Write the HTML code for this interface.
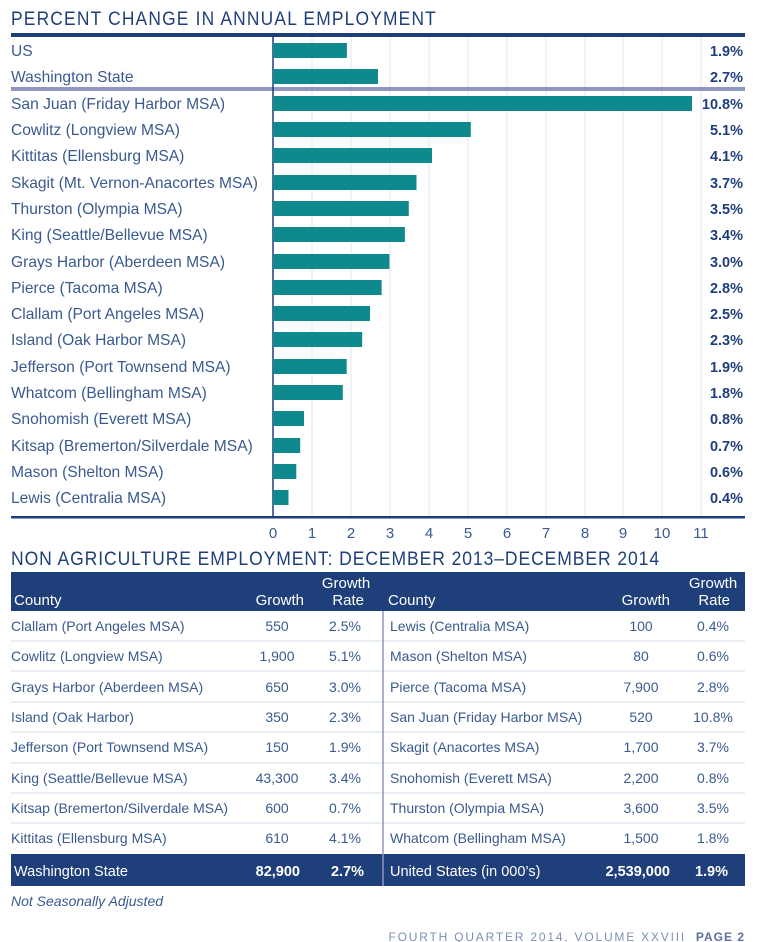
<!DOCTYPE html>
<html><head><meta charset="utf-8"><style>
body{margin:0;background:#fff;}
svg{display:block;font-family:"Liberation Sans",sans-serif;}
</style></head><body>
<svg width="760" height="942" viewBox="0 0 760 942" xmlns="http://www.w3.org/2000/svg">
<text x="11" y="25" font-size="19" fill="#1f3f7a" letter-spacing="1.3" textLength="426" lengthAdjust="spacingAndGlyphs">PERCENT CHANGE IN ANNUAL EMPLOYMENT</text>
<rect x="11" y="33" width="734" height="4" fill="#1f3f7a"/>
<g stroke="#e0e4f0" stroke-width="1">
<line x1="312" y1="37" x2="312" y2="516"/><line x1="351" y1="37" x2="351" y2="516"/><line x1="390" y1="37" x2="390" y2="516"/><line x1="429" y1="37" x2="429" y2="516"/><line x1="468" y1="37" x2="468" y2="516"/><line x1="507" y1="37" x2="507" y2="516"/><line x1="546" y1="37" x2="546" y2="516"/><line x1="585" y1="37" x2="585" y2="516"/><line x1="623" y1="37" x2="623" y2="516"/><line x1="662" y1="37" x2="662" y2="516"/><line x1="701" y1="37" x2="701" y2="516"/>
</g>
<rect x="11" y="87" width="734" height="4" fill="#8d97c2"/>
<line x1="273" y1="37" x2="273" y2="516" stroke="#1f3f7a" stroke-width="1.5"/>
<rect x="11" y="516" width="734" height="2.5" fill="#1f3f7a"/>
<g fill="#0e8a8f">
<rect x="273" y="43" width="73.9" height="15"/>
<rect x="273" y="69" width="105" height="15"/>
<rect x="273" y="96" width="419" height="15"/>
<rect x="273" y="122" width="197.8" height="15"/>
<rect x="273" y="148" width="159" height="15"/>
<rect x="273" y="175" width="143.5" height="15"/>
<rect x="273" y="201" width="135.8" height="15"/>
<rect x="273" y="227" width="131.9" height="15"/>
<rect x="273" y="254" width="116.4" height="15"/>
<rect x="273" y="280" width="108.6" height="15"/>
<rect x="273" y="306" width="97" height="15"/>
<rect x="273" y="332" width="89.2" height="15"/>
<rect x="273" y="359" width="73.7" height="15"/>
<rect x="273" y="385" width="69.8" height="15"/>
<rect x="273" y="411" width="31" height="15"/>
<rect x="273" y="438" width="27.2" height="15"/>
<rect x="273" y="464" width="23.3" height="15"/>
<rect x="273" y="490" width="15.5" height="15"/>
</g>
<g font-size="15.6" fill="#3a5a8f">
<text x="11" y="56">US</text>
<text x="11" y="82">Washington State</text>
<text x="11" y="109">San Juan (Friday Harbor MSA)</text>
<text x="11" y="135">Cowlitz (Longview MSA)</text>
<text x="11" y="161">Kittitas (Ellensburg MSA)</text>
<text x="11" y="188">Skagit (Mt. Vernon-Anacortes MSA)</text>
<text x="11" y="214">Thurston (Olympia MSA)</text>
<text x="11" y="240">King (Seattle/Bellevue MSA)</text>
<text x="11" y="267">Grays Harbor (Aberdeen MSA)</text>
<text x="11" y="293">Pierce (Tacoma MSA)</text>
<text x="11" y="319">Clallam (Port Angeles MSA)</text>
<text x="11" y="345">Island (Oak Harbor MSA)</text>
<text x="11" y="372">Jefferson (Port Townsend MSA)</text>
<text x="11" y="398">Whatcom (Bellingham MSA)</text>
<text x="11" y="424">Snohomish (Everett MSA)</text>
<text x="11" y="451">Kitsap (Bremerton/Silverdale MSA)</text>
<text x="11" y="477">Mason (Shelton MSA)</text>
<text x="11" y="503">Lewis (Centralia MSA)</text>
</g>
<g font-size="14.5" fill="#1f3f7a" font-weight="bold" text-anchor="end">
<text x="743" y="56">1.9%</text><text x="743" y="82">2.7%</text><text x="743" y="109">10.8%</text><text x="743" y="135">5.1%</text><text x="743" y="161">4.1%</text><text x="743" y="188">3.7%</text><text x="743" y="214">3.5%</text><text x="743" y="240">3.4%</text><text x="743" y="267">3.0%</text><text x="743" y="293">2.8%</text><text x="743" y="319">2.5%</text><text x="743" y="345">2.3%</text><text x="743" y="372">1.9%</text><text x="743" y="398">1.8%</text><text x="743" y="424">0.8%</text><text x="743" y="451">0.7%</text><text x="743" y="477">0.6%</text><text x="743" y="503">0.4%</text>
</g>
<g font-size="15" fill="#3a5a8f" text-anchor="middle">
<text x="273" y="538">0</text><text x="312" y="538">1</text><text x="351" y="538">2</text><text x="390" y="538">3</text><text x="429" y="538">4</text><text x="468" y="538">5</text><text x="507" y="538">6</text><text x="546" y="538">7</text><text x="585" y="538">8</text><text x="623" y="538">9</text><text x="662" y="538">10</text><text x="701" y="538">11</text>
</g>
<text x="11" y="565" font-size="19" fill="#1f3f7a" letter-spacing="1" textLength="649" lengthAdjust="spacingAndGlyphs">NON AGRICULTURE EMPLOYMENT: DECEMBER 2013–DECEMBER 2014</text>
<rect x="11" y="572" width="734" height="39" fill="#1f3f7a"/>
<g font-size="15" fill="#fff">
<text x="14" y="605">County</text>
<text x="304" y="605" text-anchor="end">Growth</text>
<text x="346" y="588" text-anchor="middle">Growth</text>
<text x="364" y="605" text-anchor="end">Rate</text>
<text x="388" y="605">County</text>
<text x="670" y="605" text-anchor="end">Growth</text>
<text x="713" y="588" text-anchor="middle">Growth</text>
<text x="730" y="605" text-anchor="end">Rate</text>
</g>
<g stroke="#d6dbea" stroke-width="1">
<line x1="11" y1="641" x2="745" y2="641"/><line x1="11" y1="671" x2="745" y2="671"/><line x1="11" y1="702" x2="745" y2="702"/><line x1="11" y1="732" x2="745" y2="732"/><line x1="11" y1="763" x2="745" y2="763"/><line x1="11" y1="793" x2="745" y2="793"/><line x1="11" y1="823" x2="745" y2="823"/>
</g>
<line x1="383" y1="611" x2="383" y2="886" stroke="#8d97c2" stroke-width="1.5"/>
<rect x="11" y="854" width="734" height="32" fill="#1f3f7a"/>
<line x1="383" y1="854" x2="383" y2="886" stroke="#8d97c2" stroke-width="1.5"/>
<g font-size="14" fill="#3a5a8f">
<text x="11" y="631">Clallam (Port Angeles MSA)</text>
<text x="11" y="661">Cowlitz (Longview MSA)</text>
<text x="11" y="692">Grays Harbor (Aberdeen MSA)</text>
<text x="11" y="722">Island (Oak Harbor)</text>
<text x="11" y="752">Jefferson (Port Townsend MSA)</text>
<text x="11" y="783">King (Seattle/Bellevue MSA)</text>
<text x="11" y="813">Kitsap (Bremerton/Silverdale MSA)</text>
<text x="11" y="843">Kittitas (Ellensburg MSA)</text>
<text x="390" y="631">Lewis (Centralia MSA)</text>
<text x="390" y="661">Mason (Shelton MSA)</text>
<text x="390" y="692">Pierce (Tacoma MSA)</text>
<text x="390" y="722">San Juan (Friday Harbor MSA)</text>
<text x="390" y="752">Skagit (Anacortes MSA)</text>
<text x="390" y="783">Snohomish (Everett MSA)</text>
<text x="390" y="813">Thurston (Olympia MSA)</text>
<text x="390" y="843">Whatcom (Bellingham MSA)</text>
</g>
<g font-size="14" fill="#3a5a8f" text-anchor="middle">
<text x="277" y="631">550</text><text x="277" y="661">1,900</text><text x="277" y="692">650</text><text x="277" y="722">350</text><text x="277" y="752">150</text><text x="277" y="783">43,300</text><text x="277" y="813">600</text><text x="277" y="843">610</text>
<text x="345" y="631">2.5%</text><text x="345" y="661">5.1%</text><text x="345" y="692">3.0%</text><text x="345" y="722">2.3%</text><text x="345" y="752">1.9%</text><text x="345" y="783">3.4%</text><text x="345" y="813">0.7%</text><text x="345" y="843">4.1%</text>
<text x="641" y="631">100</text><text x="641" y="661">80</text><text x="641" y="692">7,900</text><text x="641" y="722">520</text><text x="641" y="752">1,700</text><text x="641" y="783">2,200</text><text x="641" y="813">3,600</text><text x="641" y="843">1,500</text>
<text x="713" y="631">0.4%</text><text x="713" y="661">0.6%</text><text x="713" y="692">2.8%</text><text x="713" y="722">10.8%</text><text x="713" y="752">3.7%</text><text x="713" y="783">0.8%</text><text x="713" y="813">3.5%</text><text x="713" y="843">1.8%</text>
</g>
<g font-size="14.5" fill="#fff">
<text x="14" y="876">Washington State</text>
<text x="390" y="876">United States (in 000’s)</text>
<text x="300" y="876" text-anchor="end" font-weight="bold">82,900</text>
<text x="364" y="876" text-anchor="end" font-weight="bold">2.7%</text>
<text x="670" y="876" text-anchor="end" font-weight="bold">2,539,000</text>
<text x="728" y="876" text-anchor="end" font-weight="bold">1.9%</text>
</g>
<text x="11" y="906" font-size="14" font-style="italic" fill="#3a5a8f">Not Seasonally Adjusted</text>
<text x="686" y="941" font-size="12" fill="#7d8fb8" letter-spacing="1.8" text-anchor="end">FOURTH QUARTER 2014, VOLUME XXVIII</text>
<text x="745" y="941" font-size="12" fill="#5d6f9c" font-weight="bold" letter-spacing="1" text-anchor="end">PAGE 2</text>
</svg>
</body></html>
